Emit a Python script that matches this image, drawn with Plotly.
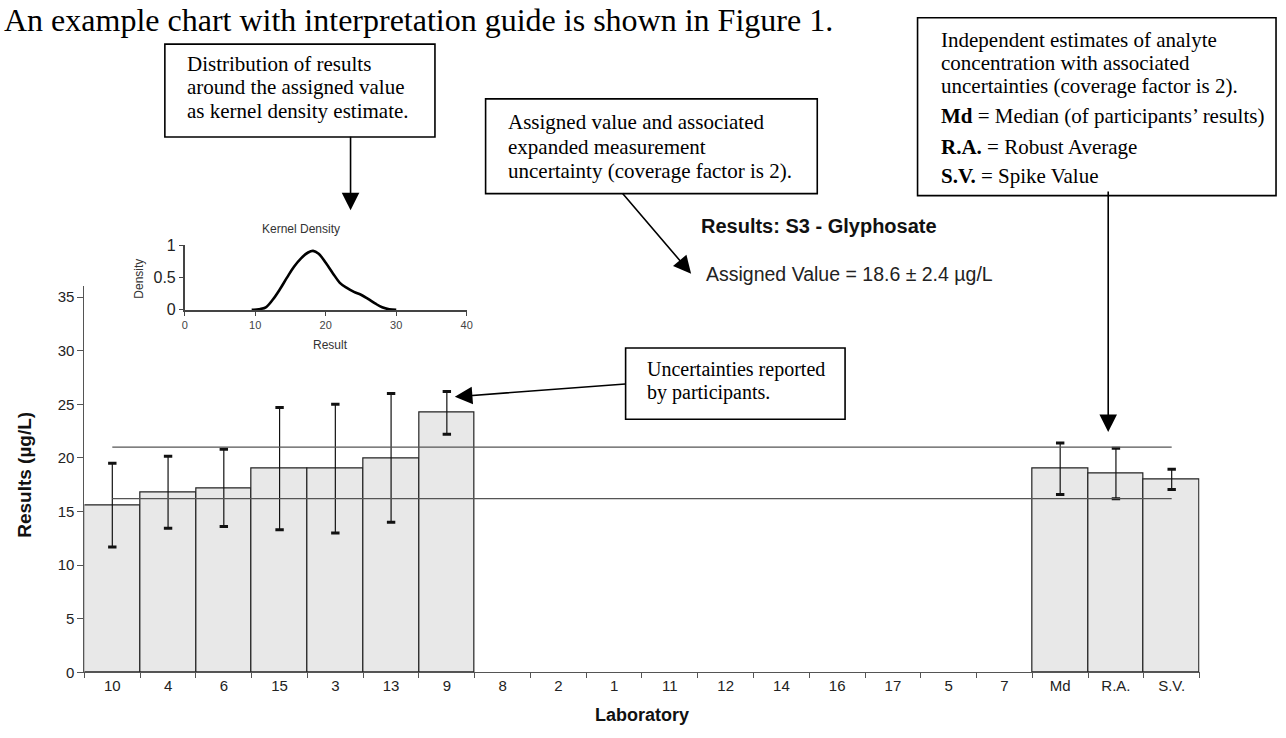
import plotly.graph_objects as go

W, H = 1286, 738

def px(x):
    return x / W

def py(y):
    return 1 - y / H

# ---------------- data ----------------
labs = ["10", "4", "6", "15", "3", "13", "9", "8", "2", "1", "11", "12",
        "14", "16", "17", "5", "7", "Md", "R.A.", "S.V."]
results = [15.6, 16.8, 17.2, 19.0, 19.0, 20.0, 24.2, None, None, None, None,
           None, None, None, None, None, None, 19.0, 18.55, 18.0]
uncert = [3.9, 3.35, 3.6, 5.7, 6.0, 6.0, 2.0, None, None, None, None,
          None, None, None, None, None, None, 2.4, 2.35, 0.95]
assigned_value = 18.6
assigned_unc = 2.4
y_ticks = [0, 5, 10, 15, 20, 25, 30, 35]

kd_x = [9.5, 10.5, 11.5, 12.5, 13.5, 14.5, 15.5, 16.5, 17.5, 18.2, 19, 20, 21,
        22, 23, 24, 25, 26, 27, 28, 29, 30]
kd_y = [0, 0.01, 0.04, 0.16, 0.32, 0.50, 0.67, 0.80, 0.89, 0.915, 0.87, 0.73,
        0.57, 0.42, 0.34, 0.28, 0.235, 0.17, 0.10, 0.04, 0.01, 0]
kd_xticks = [0, 10, 20, 30, 40]
kd_yticks = [0, 0.5, 1]

# ---------------- figure ----------------
fig = go.Figure()

fig.add_trace(go.Bar(
    x=labs, y=results,
    marker=dict(color="#e8e8e8", line=dict(color="#222222", width=1.2)),
    error_y=dict(type="data", array=uncert, visible=True,
                 color="#111111", thickness=1.2, width=3),
    showlegend=False, xaxis="x", yaxis="y", hoverinfo="skip",
))

# heavier error-bar caps
hi_x, hi_y, lo_y = [], [], []
for lab, v, e in zip(labs, results, uncert):
    if v is not None and e is not None:
        hi_x.append(lab)
        hi_y.append(v + e)
        lo_y.append(v - e)
fig.add_trace(go.Scatter(
    x=hi_x + hi_x, y=hi_y + lo_y, mode="markers",
    marker=dict(symbol="line-ew", size=6, line=dict(color="#111111", width=3)),
    showlegend=False, xaxis="x", yaxis="y", hoverinfo="skip",
))

# assigned value +/- uncertainty lines
for yv in (assigned_value - assigned_unc, assigned_value + assigned_unc):
    fig.add_trace(go.Scatter(
        x=[labs[0], labs[-1]], y=[yv, yv], mode="lines",
        line=dict(color="#555555", width=1.2),
        showlegend=False, xaxis="x", yaxis="y", hoverinfo="skip",
    ))

# kernel density inset
fig.add_trace(go.Scatter(
    x=kd_x, y=kd_y, mode="lines", line=dict(color="#000000", width=2.6, shape="spline"),
    showlegend=False, xaxis="x2", yaxis="y2", hoverinfo="skip",
))

tickfont = dict(family="Liberation Sans, Arial", size=15, color="#222222")

fig.update_layout(
    width=W, height=H, autosize=False,
    margin=dict(l=0, r=0, t=0, b=0),
    paper_bgcolor="white", plot_bgcolor="rgba(0,0,0,0)",
    bargap=0,
    font=dict(family="Liberation Sans, Arial", color="#222222"),
    xaxis=dict(
        type="category", domain=[px(82), px(1205)], range=[-0.5, 19.5],
        anchor="y", showline=True, linecolor="#555555", linewidth=1.2,
        ticks="outside", tickson="boundaries", ticklen=5, tickcolor="#555555",
        tickfont=tickfont, showgrid=False, zeroline=False, fixedrange=True,
    ),
    yaxis=dict(
        domain=[py(680), py(285)], range=[0, 36], anchor="x",
        tickvals=y_ticks, showline=True, linecolor="#555555", linewidth=1.2,
        ticks="outside", ticklen=6, tickcolor="#555555",
        tickfont=tickfont, showgrid=False, zeroline=False, fixedrange=True,
    ),
    xaxis2=dict(
        domain=[px(183), px(467)], range=[0, 40], anchor="y2",
        tickvals=kd_xticks, showline=True, linecolor="#444444", linewidth=1.5,
        ticks="outside", ticklen=4, tickcolor="#444444",
        tickfont=dict(family="Liberation Sans, Arial", size=11, color="#444444"),
        showgrid=False, zeroline=False, fixedrange=True,
    ),
    yaxis2=dict(
        domain=[py(309), py(243)], range=[0, 1.0001], anchor="x2",
        tickvals=kd_yticks, ticktext=["0", "0.5", "1"],
        showline=True, linecolor="#444444", linewidth=1.5,
        ticks="outside", ticklen=4, tickcolor="#444444",
        tickfont=dict(family="Liberation Sans, Arial", size=16, color="#222222"),
        showgrid=False, zeroline=False, fixedrange=True,
    ),
)

ann = []
shapes = []

def text(x, y, s, size, family="Liberation Serif, Times New Roman", color="#000000",
         xanchor="left", angle=0):
    ann.append(dict(x=px(x), y=py(y), xref="paper", yref="paper", text=s,
                    showarrow=False, xanchor=xanchor, yanchor="middle",
                    textangle=angle,
                    font=dict(family=family, size=size, color=color)))

def box(x0, y0, x1, y1):
    shapes.append(dict(type="rect", xref="paper", yref="paper",
                       x0=px(x0), x1=px(x1), y0=py(y1), y1=py(y0),
                       line=dict(color="#000000", width=1.6),
                       fillcolor="white", layer="above"))

def arrow(tail, tip):
    ann.append(dict(x=px(tip[0]), y=py(tip[1]), xref="paper", yref="paper",
                    ax=tail[0] - tip[0], ay=tail[1] - tip[1],
                    axref="pixel", ayref="pixel", text="", showarrow=True,
                    arrowhead=2, arrowsize=2.2, arrowwidth=1.6,
                    arrowcolor="#000000", standoff=0, startstandoff=0))

# top sentence
text(-1, 12, "An example chart with interpretation guide is shown in Figure 1.", 32)

# box 1
box(163, 37, 435, 132)
for i, s in enumerate(["Distribution of results", "around the assigned value",
                       "as kernel density estimate."]):
    text(183, 57 + 24 * i, s, 21)
arrow((350, 132), (350, 207))

# box 2
box(486, 93, 820, 190)
for i, s in enumerate(["Assigned value and associated", "expanded measurement",
                       "uncertainty (coverage factor is 2)."]):
    text(507, 117 + 25 * i, s, 21)
arrow((623, 190), (693, 272))

# box 3
box(921, 10, 1282, 192)
for yv, s in [(33, "Independent estimates of analyte"),
              (56, "concentration with associated"),
              (80, "uncertainties (coverage factor is 2)."),
              (111, "<b>Md</b> = Median (of participants’ results)"),
              (142, "<b>R.A.</b> = Robust Average"),
              (172, "<b>S.V.</b> = Spike Value")]:
    text(943, yv, s, 21)
arrow((1113, 192), (1113, 434))

# box 4
box(627, 348, 848, 421)
text(647, 370, "Uncertainties reported", 20)
text(647, 394, "by participants.", 20)
arrow((627, 385), (455, 398))

# chart titles
text(822, 223, "<b>Results: S3 - Glyphosate</b>", 20, family="Liberation Sans, Arial",
     color="#111111", xanchor="center")
text(706, 272, "Assigned Value = 18.6 ± 2.4 µg/L", 19.5, family="Liberation Sans, Arial",
     color="#222222")
text(643, 724, "<b>Laboratory</b>", 18, family="Liberation Sans, Arial",
     color="#111111", xanchor="center")
ann.append(dict(x=px(22), y=py(478), xref="paper", yref="paper",
                text="<b>Results (µg/L)</b>", showarrow=False, textangle=-90,
                xanchor="center", yanchor="middle",
                font=dict(family="Liberation Sans, Arial", size=19, color="#111111")))

# inset titles
text(300, 226, "Kernel Density", 12, family="Liberation Sans, Arial",
     color="#333333", xanchor="center")
text(330, 345, "Result", 12, family="Liberation Sans, Arial",
     color="#333333", xanchor="center")
ann.append(dict(x=px(137), y=py(277), xref="paper", yref="paper",
                text="Density", showarrow=False, textangle=-90,
                xanchor="center", yanchor="middle",
                font=dict(family="Liberation Sans, Arial", size=12, color="#333333")))

fig.update_layout(annotations=ann, shapes=shapes)

fig.write_html("out.html")
